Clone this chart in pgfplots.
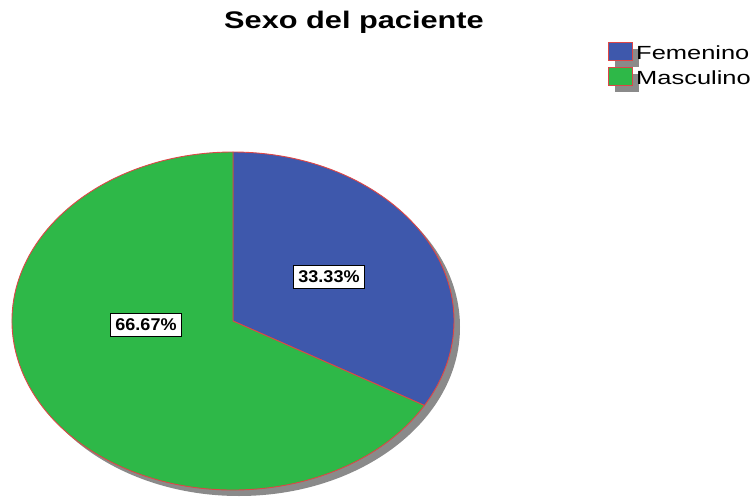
\documentclass[border=0pt]{standalone}
\usepackage{pgfplots}
\pgfplotsset{compat=1.18}
\usepackage{pgfplotstable}
\usepackage{fontspec}
\setmainfont{Liberation Sans}
\newfontfamily\widefont[FakeStretch=1.28]{Liberation Sans}
\newfontfamily\legfont[FakeStretch=1.34]{Liberation Sans}
\newfontfamily\labfont[FakeStretch=1.06]{Liberation Sans}

\definecolor{FemBlue}  {RGB}{ 62, 88,172}
\definecolor{MasGreen} {RGB}{ 46,184, 72}
\definecolor{EdgeRed}  {RGB}{222, 70, 70}
\definecolor{ShadowGr} {RGB}{138,138,138}

\pgfplotstableread{
sexo      share
Femenino  33.33
Masculino 66.67
}\pietable

\begin{document}
\begin{tikzpicture}
\useasboundingbox (0,0) rectangle (753pt,498pt);

% pie geometry in pixel units of the reference
\def\cx{233}\def\cy{321}
\pgfplotstablegetelem{0}{share}\of\pietable
\pgfmathsetmacro\angA{90-3.6*\pgfplotsretval}
\pgfmathsetmacro\angB{90-360}

\begin{axis}[
    width=753pt, height=498pt,
    scale only axis,
    hide axis,
    clip=false,
    xmin=0, xmax=753,
    ymin=0, ymax=498,
    y dir=reverse,
]

% shadow
\fill[ShadowGr] (axis cs:\cx+6,\cy+6) ellipse [x radius=221pt, y radius=169pt];

% slices
\filldraw[fill=FemBlue, draw=EdgeRed, line width=0.9pt]
    (axis cs:\cx,\cy) -- ++(90:221pt and 169pt)
    arc[start angle=90, end angle=\angA, x radius=221pt, y radius=169pt] -- cycle;
\filldraw[fill=MasGreen, draw=EdgeRed, line width=0.9pt]
    (axis cs:\cx,\cy) -- ++(\angA:221pt and 169pt)
    arc[start angle=\angA, end angle=\angB, x radius=221pt, y radius=169pt] -- cycle;

% value labels
\node[fill=white, draw=black, line width=1pt, inner xsep=4.5pt, inner ysep=5pt,
      font=\labfont\fontsize{17}{19}\selectfont\bfseries]
    at (axis cs:329,277) {33.33\%};
\node[fill=white, draw=black, line width=1pt, inner xsep=4.5pt, inner ysep=5pt,
      font=\labfont\fontsize{17}{19}\selectfont\bfseries]
    at (axis cs:146,325) {66.67\%};

% title
\node[font=\widefont\fontsize{24}{28}\selectfont\bfseries]
    at (axis cs:354,22) {Sexo del paciente};

% legend
\fill[ShadowGr] (axis cs:615,49) rectangle (axis cs:639,67);
\fill[ShadowGr] (axis cs:615,74) rectangle (axis cs:639,92);
\filldraw[fill=FemBlue, draw=EdgeRed, line width=0.8pt]
    (axis cs:608,42) rectangle (axis cs:632,60);
\filldraw[fill=MasGreen, draw=EdgeRed, line width=0.8pt]
    (axis cs:608,67) rectangle (axis cs:632,85);
\node[anchor=base west, inner sep=0pt, font=\legfont\fontsize{19}{21}\selectfont]
    at (axis cs:636,59) {Femenino};
\node[anchor=base west, inner sep=0pt, font=\legfont\fontsize{19}{21}\selectfont]
    at (axis cs:636,84) {Masculino};

\end{axis}
\end{tikzpicture}
\end{document}
